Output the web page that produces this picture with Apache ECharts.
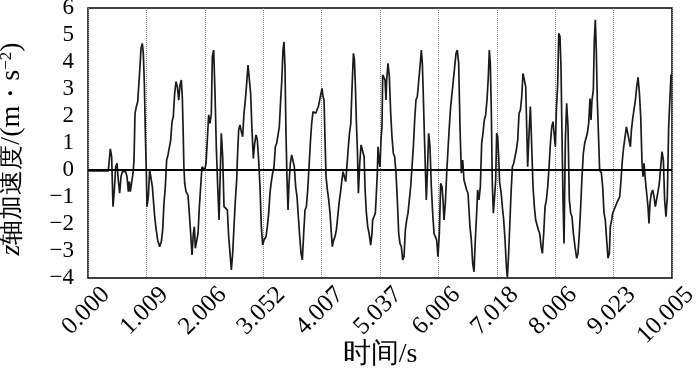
<!DOCTYPE html>
<html>
<head>
<meta charset="utf-8">
<script src="https://cdn.jsdelivr.net/npm/echarts@6/dist/echarts.min.js"></script>
<style>html,body{margin:0;padding:0;background:#fff}#c{width:700px;height:371px}</style>
</head>
<body>
<div id="c"></div>
<script>
// x positions in tick-slot units (0..10, one slot per labelled tick)
const tickLabels = ['0.000','1.009','2.006','3.052','4.007','5.037','6.006','7.018','8.006','9.023','10.005'];
const tPos = [
0.000,0.348,0.382,0.405,0.428,0.451,0.474,0.497,0.519,0.542,0.565,0.588,0.622,0.645,0.668,0.691,0.708,0.725,0.748,0.771,0.788,0.805,0.828,0.851,0.879,0.890,0.908,0.930,0.947,0.965,0.982,0.999,
1.010,1.033,1.056,1.079,1.102,1.124,1.142,1.164,1.193,1.227,1.256,1.279,1.301,1.324,1.347,1.370,1.393,1.416,1.439,1.461,1.484,1.507,1.530,1.553,1.576,1.598,1.615,1.630,1.642,1.656,1.678,1.712,1.735,1.758,1.781,1.804,1.821,1.838,1.861,1.884,1.907,1.929,1.952,1.975,1.998,
2.021,2.043,2.066,2.089,2.112,2.129,2.152,2.175,2.197,2.221,2.244,2.267,2.283,2.306,2.329,2.352,2.386,2.409,2.432,2.455,2.477,2.500,2.523,2.546,2.557,2.580,2.603,2.626,2.648,2.671,2.694,2.717,2.740,2.763,2.785,2.808,2.831,2.854,2.877,2.900,2.922,2.945,2.968,2.991,
3.014,3.048,3.071,3.094,3.116,3.139,3.162,3.185,3.208,3.231,3.257,3.276,3.299,3.316,3.339,3.356,3.373,3.390,3.408,3.425,3.442,3.465,3.488,3.510,3.533,3.556,3.579,3.602,3.625,3.648,3.670,3.693,3.716,3.739,3.762,3.785,3.807,3.830,3.853,3.876,3.899,3.922,3.945,3.967,3.990,
4.007,4.024,4.042,4.059,4.076,4.099,4.122,4.144,4.167,4.184,4.207,4.230,4.253,4.276,4.299,4.322,4.345,4.367,4.390,4.413,4.431,4.454,4.477,4.500,4.522,4.545,4.562,4.579,4.596,4.613,4.630,4.653,4.676,4.705,4.728,4.745,4.767,4.790,4.813,4.840,4.863,4.874,4.897,4.920,4.932,4.954,4.966,4.983,
5.000,5.017,5.034,5.046,5.069,5.086,5.103,5.114,5.137,5.160,5.183,5.205,5.228,5.251,5.274,5.297,5.320,5.342,5.365,5.388,5.411,5.434,5.457,5.479,5.502,5.525,5.548,5.571,5.594,5.616,5.639,5.662,5.685,5.708,5.725,5.742,5.759,5.776,5.793,5.811,5.833,5.856,5.879,5.902,5.925,5.947,5.970,5.993,
6.016,6.039,6.062,6.079,6.096,6.119,6.142,6.164,6.187,6.210,6.233,6.256,6.279,6.302,6.324,6.347,6.370,6.393,6.416,6.438,6.461,6.484,6.507,6.541,6.564,6.587,6.610,6.632,6.655,6.672,6.695,6.718,6.741,6.763,6.786,6.809,6.832,6.855,6.872,6.889,6.906,6.923,6.941,6.958,6.981,6.998,
7.015,7.032,7.049,7.072,7.095,7.118,7.141,7.164,7.181,7.198,7.221,7.244,7.267,7.290,7.312,7.335,7.358,7.381,7.404,7.427,7.449,7.472,7.495,7.512,7.529,7.552,7.575,7.598,7.620,7.643,7.666,7.689,7.712,7.735,7.758,7.781,7.803,7.826,7.849,7.872,7.895,7.918,7.941,7.963,7.986,
8.003,8.020,8.043,8.061,8.082,8.099,8.116,8.134,8.151,8.174,8.196,8.219,8.242,8.265,8.288,8.311,8.339,8.368,8.390,8.413,8.436,8.459,8.482,8.505,8.527,8.550,8.573,8.596,8.613,8.630,8.653,8.670,8.687,8.704,8.721,8.744,8.761,8.790,8.813,8.836,8.858,8.881,8.904,8.927,8.944,8.967,8.984,
9.007,9.030,9.053,9.082,9.105,9.127,9.150,9.173,9.196,9.219,9.242,9.265,9.288,9.305,9.328,9.350,9.373,9.396,9.419,9.442,9.464,9.487,9.504,9.521,9.544,9.566,9.589,9.606,9.623,9.646,9.669,9.692,9.715,9.737,9.760,9.783,9.806,9.829,9.852,9.874,9.897,9.920,9.943,9.966,9.983,10.000
];
const accel = [
-0.03,-0.03,0.78,0.49,-1.36,-0.74,0.12,0.25,-0.37,-0.86,-0.25,-0.06,-0.12,-0.06,-0.25,-0.80,-0.43,-0.80,-0.74,-0.12,0.37,2.10,2.35,2.53,2.59,3.83,4.51,4.69,4.32,3.21,1.36,-0.12,
-1.36,-0.99,0.00,0.02,-0.62,-1.23,-1.73,-2.16,-2.59,-2.84,-2.65,-2.22,-1.23,-0.62,0.37,0.56,0.62,1.11,1.79,1.98,2.84,3.27,3.09,2.59,3.15,3.33,2.70,1.36,0.12,-0.49,-0.80,-0.93,-1.60,-2.35,-3.15,-2.35,-2.10,-2.90,-2.84,-2.35,-1.36,-0.62,0.12,0.19,0.00,
0.25,1.11,2.04,1.73,2.10,4.20,4.44,2.84,0.86,-0.62,-1.85,0.12,1.36,0.49,-1.36,-1.42,-1.48,-2.47,-3.09,-3.70,-3.09,-2.10,-1.11,-0.37,0.37,1.48,1.67,1.42,1.23,2.10,2.59,3.21,3.89,3.83,2.84,1.48,0.43,0.99,1.30,1.11,0.37,-0.62,-2.10,-2.78,
-2.59,-2.47,-2.10,-1.60,-0.86,-0.43,-0.12,0.12,0.86,0.99,1.05,1.60,2.59,3.21,4.44,4.75,3.83,1.36,-0.37,-1.48,-0.49,0.25,0.56,0.49,0.12,-0.62,-0.99,-1.73,-2.47,-3.09,-3.33,-2.35,-1.48,-1.36,-0.74,0.12,0.99,1.73,2.16,2.22,2.10,2.10,2.35,2.59,2.84,
3.02,2.72,2.59,1.11,-0.25,-0.74,-1.11,-1.60,-2.35,-2.84,-2.59,-2.47,-2.22,-1.73,-1.23,-0.86,-0.43,-0.06,-0.25,-0.43,0.06,0.74,1.36,1.73,3.09,4.32,4.07,3.09,1.73,0.74,-0.86,0.25,0.93,0.99,0.49,-0.74,-1.60,-2.10,-2.35,-2.78,-2.35,-1.85,-1.73,-1.60,-1.11,-0.12,0.86,0.37,
0.12,1.11,1.60,3.52,3.46,3.33,2.59,3.33,3.95,3.46,2.10,1.23,0.62,0.49,-0.12,-1.11,-2.35,-2.72,-2.84,-3.33,-3.21,-2.22,-1.85,-1.60,-1.11,-0.62,0.12,0.86,1.85,2.59,2.72,2.72,3.83,4.44,3.95,2.72,1.36,0.12,-1.11,-0.12,1.36,0.86,-0.62,-1.60,-2.35,-2.47,-2.59,-3.21,
-2.35,-0.49,-0.62,-1.11,-1.85,-1.23,-0.12,0.74,1.60,2.35,2.84,3.33,3.83,4.32,4.44,3.95,1.60,-0.12,0.37,-0.37,-0.43,-0.74,-0.86,-2.10,-2.59,-3.46,-3.77,-2.59,-1.60,-0.74,-1.11,-0.62,0.99,1.36,1.85,2.04,2.59,3.46,4.44,3.95,2.22,-0.49,-1.60,-1.11,-0.37,1.36,
1.23,0.49,-0.49,-0.80,-1.36,-1.85,-2.59,-3.58,-3.98,-3.33,-2.10,-0.86,0.12,0.25,0.31,0.74,1.11,2.10,2.22,2.72,3.58,3.64,3.09,1.60,0.12,1.36,2.35,0.86,-0.62,-1.36,-1.85,-1.91,-2.22,-2.35,-2.84,-3.09,-2.35,-1.36,-1.11,-0.62,0.12,0.99,1.60,1.79,1.23,
0.86,2.22,3.21,5.06,4.94,3.83,1.36,-1.11,-2.72,1.11,2.47,1.60,-1.11,-1.60,-1.73,-2.35,-2.84,-3.27,-3.09,-2.35,-1.36,-0.25,0.62,0.99,1.05,1.36,1.73,2.65,1.85,2.59,2.96,4.81,5.56,4.44,2.59,1.11,-0.02,-0.10,-0.62,-1.60,-1.85,-2.59,-3.27,-3.09,-2.10,-1.85,-1.60,
-1.48,-1.42,-1.23,-1.17,-0.99,-0.37,0.37,0.86,1.23,1.60,1.36,1.11,0.86,1.48,1.91,1.98,2.59,3.09,3.43,2.84,1.98,0.25,-0.25,0.25,-0.37,-0.43,-1.36,-1.98,-1.23,-0.86,-0.74,-0.99,-1.36,-1.42,-0.80,-0.49,0.12,0.68,0.37,-1.11,-1.73,-0.99,1.60,2.72,3.52,3.52
];
const yTicks = [-4,-3,-2,-1,0,1,2,3,4,5,6];

const serif = "'Liberation Serif', 'Times New Roman', serif";
const chart = echarts.init(document.getElementById('c'), null, {renderer: 'canvas'});
const data = tPos.map((t, i) => [t, accel[i]]);

chart.setOption({
  animation: false,
  backgroundColor: '#fff',
  textStyle: {fontFamily: serif},
  grid: [
    {left: 88, right: 28, top: 8, bottom: 93, show: true, borderColor: '#000', borderWidth: 1.5,
     backgroundColor: 'transparent', containLabel: false, outerBoundsMode: 'none'},
    // label-only grid, shifted right so rotated tick labels sit where the reference puts them
    {left: 106, right: 10, top: 8, bottom: 93, show: false, containLabel: false, outerBoundsMode: 'none'}
  ],
  xAxis: [{
    gridIndex: 0, type: 'value', min: 0, max: 10, interval: 1,
    name: '时间/s', nameLocation: 'middle', nameGap: 63,
    nameTextStyle: {fontFamily: serif, fontSize: 28, color: '#000'},
    axisLine: {show: false}, axisTick: {show: false},
    splitLine: {show: true, lineStyle: {type: 'dotted', color: '#888', width: 1}},
    axisLabel: {show: false}
  }, {
    gridIndex: 1, type: 'value', min: 0, max: 10, interval: 1,
    axisLine: {show: false}, axisTick: {show: false}, splitLine: {show: false},
    axisLabel: {
      rotate: 45, margin: 13, fontFamily: serif, fontSize: 25, color: '#000',
      showMinLabel: true, showMaxLabel: true, hideOverlap: false,
      formatter: v => tickLabels[Math.round(v)]
    }
  }],
  yAxis: [{
    gridIndex: 0, type: 'value', min: yTicks[0], max: yTicks[yTicks.length - 1], interval: 1,
    name: '{i|z}{c|轴加速度}/(m{c|・}s{sup|−2})', nameLocation: 'middle', nameGap: 62,
    nameTextStyle: {
      fontFamily: serif, fontSize: 28, color: '#000', padding: [0, 12, 0, 0],
      rich: {
        i: {fontFamily: serif, fontSize: 28, fontStyle: 'italic', color: '#000'},
        c: {fontFamily: serif, fontSize: 25, color: '#000'},
        sup: {fontFamily: serif, fontSize: 17, color: '#000', verticalAlign: 'top', lineHeight: 28}
      }
    },
    axisLine: {show: false}, axisTick: {show: false}, splitLine: {show: false},
    axisLabel: {
      margin: 14, fontFamily: serif, fontSize: 23, color: '#000',
      formatter: v => String(v).replace('-', '−')
    }
  }, {
    gridIndex: 1, type: 'value', min: yTicks[0], max: yTicks[yTicks.length - 1], interval: 1, show: false
  }],
  series: [{
    type: 'line', xAxisIndex: 0, yAxisIndex: 0, data: data, showSymbol: false, symbol: 'none',
    lineStyle: {color: '#1a1a1a', width: 1.7},
    markLine: {
      silent: true, symbol: ['none', 'none'], label: {show: false},
      lineStyle: {color: '#000', width: 1.8, type: 'solid'},
      data: [{yAxis: 0}]
    }
  }]
});
</script>
</body>
</html>
